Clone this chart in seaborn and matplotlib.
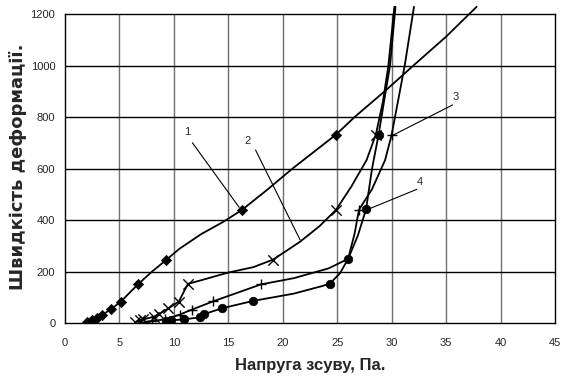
import matplotlib
matplotlib.use("Agg")
import matplotlib.pyplot as plt
import seaborn as sns
from matplotlib import font_manager

# --- data ---
# curve 1 (diamonds)
x1 = [2.0, 2.45, 2.9, 3.4, 4.2, 5.1, 6.7, 8.0, 9.3, 10.5, 12.5, 14.5, 16.25,
      18.5, 20.9, 24.9, 26.6, 29.5, 32.0, 35.0, 37.8]
y1 = [5, 12, 20, 31, 53, 82, 150, 200, 245, 288, 345, 392, 439,
      515, 600, 732, 800, 905, 1000, 1112, 1228]
x1_pts = [2.0, 2.45, 2.9, 3.4, 4.2, 5.1, 6.7, 9.3, 16.25, 24.9]
y1_pts = [5, 12, 20, 31, 53, 82, 150, 245, 439, 732]

# curve 2 (crosses)
x2 = [6.45, 6.85, 7.2, 8.2, 8.6, 9.5, 10.45, 10.9, 11.3, 12.5, 15.0, 17.3,
      19.1, 20.5, 21.6, 23.4, 24.9, 26.3, 27.7, 28.55, 29.2, 29.7, 30.25]
y2 = [4, 10, 14, 25, 34, 57, 83, 120, 152, 166, 196, 217,
      246, 285, 316, 377, 440, 530, 633, 732, 860, 1000, 1228]
x2_pts = [6.45, 6.85, 7.2, 8.2, 8.6, 9.5, 10.45, 11.3, 19.1, 24.9, 28.55]
y2_pts = [4, 10, 14, 25, 34, 57, 83, 152, 246, 440, 732]

# curve 3 (pluses)
x3 = [7.3, 8.0, 9.2, 10.56, 11.65, 13.6, 18.0, 21.0, 24.2, 26.0, 26.6, 27.0,
      28.2, 29.4, 30.0, 31.2, 32.05]
y3 = [4, 8, 14, 33, 52, 84, 150, 174, 212, 249, 348, 440,
      520, 633, 731, 1000, 1228]
x3_pts = [7.3, 8.0, 9.2, 10.56, 11.65, 13.6, 18.0, 27.0, 30.0]
y3_pts = [4, 8, 14, 33, 52, 84, 150, 440, 731]

# curve 4 (dots)
x4 = [9.3, 9.7, 10.9, 12.4, 12.75, 14.4, 17.3, 21.0, 23.4, 24.3, 25.25, 26.0,
      26.9, 27.65, 28.2, 28.8, 29.3, 29.85, 30.35]
y4 = [8, 10, 14, 22, 34, 57, 86, 114, 141, 152, 193, 249,
      340, 442, 600, 731, 860, 1000, 1228]
x4_pts = [9.3, 9.7, 10.9, 12.4, 12.75, 14.4, 17.3, 24.3, 26.0, 27.65, 28.8]
y4_pts = [8, 10, 14, 22, 34, 57, 86, 152, 249, 442, 731]

x_ticks = [0, 5, 10, 15, 20, 25, 30, 35, 40, 45]
y_ticks = [0, 200, 400, 600, 800, 1000, 1200]

names = {f.name for f in font_manager.fontManager.ttflist}
narrow = "Liberation Sans Narrow" if "Liberation Sans Narrow" in names else "Liberation Sans"

sns.set_style("white")
plt.rcParams["font.family"] = [narrow, "DejaVu Sans"]

fig = plt.figure(figsize=(5.68, 3.86), dpi=100)
ax = fig.add_axes([0.1144, 0.1632, 0.8627, 0.8005])

for xs, ys in [(x1, y1), (x2, y2), (x3, y3), (x4, y4)]:
    sns.lineplot(x=xs, y=ys, ax=ax, sort=False, estimator=None,
                 color="black", linewidth=1.3, clip_on=False, zorder=3)

sns.scatterplot(x=x1_pts, y=y1_pts, ax=ax, marker="D", s=28, color="black",
                edgecolor="black", zorder=4)
sns.scatterplot(x=x2_pts, y=y2_pts, ax=ax, marker="x", s=55, color="black",
                linewidth=1.0, zorder=4)
sns.scatterplot(x=x3_pts, y=y3_pts, ax=ax, marker="+", s=55, color="black",
                linewidth=1.0, zorder=4)
sns.scatterplot(x=x4_pts, y=y4_pts, ax=ax, marker="o", s=38, color="black",
                edgecolor="black", zorder=4)

# numbered leaders
leaders = [("1", (11.2, 743), (11.7, 700), (16.0, 449)),
           ("2", (16.8, 708), (17.5, 672), (21.6, 322)),
           ("3", (35.9, 879), (35.6, 847), (30.15, 730)),
           ("4", (32.6, 549), (32.3, 519), (27.8, 441))]
for lab, tpos, start, end in leaders:
    ax.text(tpos[0], tpos[1], lab, ha="center", va="center", fontsize=8)
    ax.annotate("", xy=end, xytext=start,
                arrowprops=dict(arrowstyle="-", color="black", lw=0.8,
                                shrinkA=0, shrinkB=0), zorder=5)

ax.set_xlim(0, 45)
ax.set_ylim(0, 1200)
ax.set_xticks(x_ticks)
ax.set_yticks(y_ticks)
ax.grid(False)
for x in x_ticks[1:-1]:
    ax.axvline(x, color="#707070", linewidth=1.0, zorder=1)
for y in y_ticks[1:-1]:
    ax.axhline(y, color="black", linewidth=1.0, zorder=1)

for side in ["top", "right", "bottom", "left"]:
    ax.spines[side].set_visible(True)
    ax.spines[side].set_color("black")
    ax.spines[side].set_linewidth(1.0)

ax.tick_params(axis="both", labelsize=8, length=3, color="black", direction="out")
ax.tick_params(axis="x", pad=8)
ax.tick_params(axis="y", pad=4)

ax.set_xlabel("Напруга зсуву, Па.", fontsize=12, fontweight="bold", labelpad=7)
ax.set_ylabel("Швидкість деформації.", fontsize=13, fontweight="bold",
              family=["DejaVu Sans"])
ax.yaxis.set_label_coords(-0.095, 0.505)
ax.yaxis.label.set_verticalalignment("center")

plt.savefig("out.png", dpi=100)
plt.close()
